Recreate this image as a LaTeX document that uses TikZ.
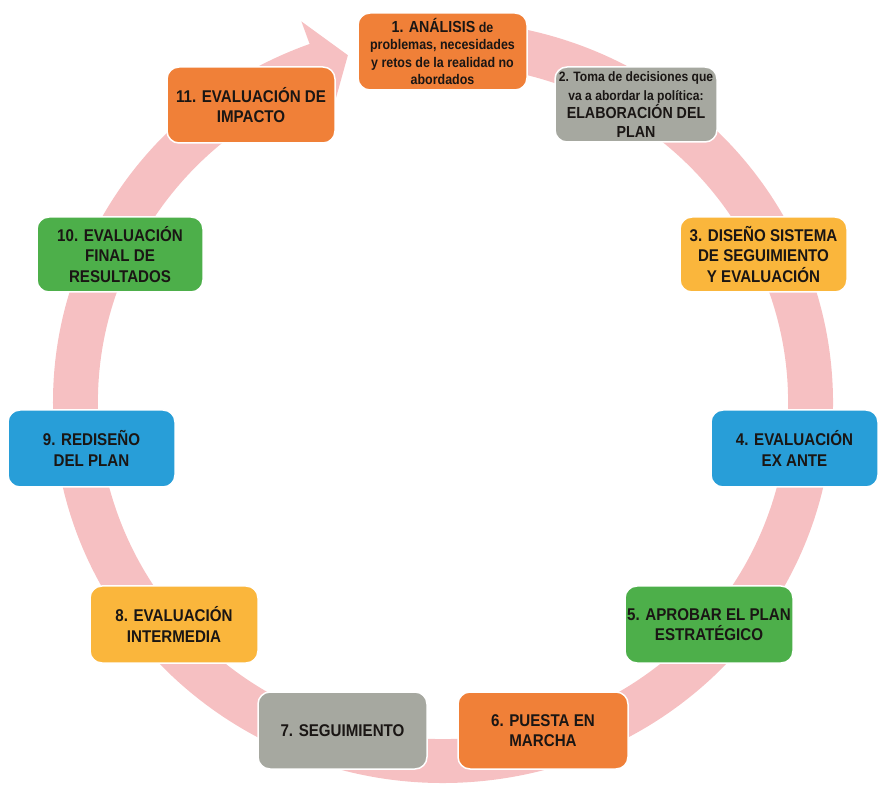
\documentclass[tikz,border=0pt]{standalone}
\usepackage{fontspec}
\newfontfamily\capf{Liberation Sans}[FakeStretch=0.89]
\definecolor{ringc}{RGB}{246,192,194}
\definecolor{orangec}{RGB}{240,128,56}
\definecolor{grayc}{RGB}{166,168,160}
\definecolor{yellowc}{RGB}{250,182,60}
\definecolor{bluec}{RGB}{40,158,216}
\definecolor{greenc}{RGB}{77,175,74}
\definecolor{txtc}{RGB}{26,22,20}
\begin{document}
\begin{tikzpicture}[x=1pt,y=1pt,
  box/.style={rounded corners=12pt,draw=white,line width=1.5pt,inner sep=0pt,
    align=center,text=txtc,minimum width=168pt,minimum height=77pt,
    font=\capf\bfseries\fontsize{17}{20.5}\selectfont},
  small/.style={font=\capf\bfseries\fontsize{14}{17.5}\selectfont}]
\useasboundingbox (0,0) rectangle (889,785);
\coordinate (c) at (443,383);
% ring with arrow head
\fill[ringc] ([shift={(c)}]95:390 and 381)
  arc[start angle=95,end angle=-250,x radius=390,y radius=381]
  -- ([shift={(c)}]-250:414 and 405)
  -- ([shift={(c)}]-255:367.5 and 359)
  -- ([shift={(c)}]-250:321 and 313)
  -- ([shift={(c)}]-250:345 and 337)
  arc[start angle=-250,end angle=95,x radius=345,y radius=337]
  -- cycle;
% boxes
\node[box,small,fill=orangec,minimum width=169pt] (n1) at (442.5,733.5)
  {{\fontsize{16}{17.5}\selectfont 1. ANÁLISIS} de\\problemas, necesidades\\y retos de la realidad no\\abordados};
\node[box,fill=grayc,minimum width=162pt,minimum height=75pt,
  font=\capf\bfseries\fontsize{13.6}{18.5}\selectfont] (n2) at (636,680.5)
  {2. Toma de decisiones que\\va a abordar la política:\\{\fontsize{16}{18.5}\selectfont ELABORACIÓN DEL}\\{\fontsize{16}{18.5}\selectfont PLAN}};
\node[box,fill=yellowc,minimum width=167pt,minimum height=75pt] (n3) at (763.5,530.5)
  {3. DISEÑO SISTEMA\\DE SEGUIMIENTO\\Y EVALUACIÓN};
\node[box,fill=bluec,minimum width=167pt] (n4) at (794.5,336.5)
  {4. EVALUACIÓN\\EX ANTE};
\node[box,fill=greenc] (n5) at (709,160.5)
  {5. APROBAR EL PLAN\\ESTRATÉGICO};
\node[box,fill=orangec,minimum width=170pt] (n6) at (543,54.5)
  {6. PUESTA EN\\MARCHA};
\node[box,fill=grayc,minimum width=169pt] (n7) at (342.5,54.5)
  {7. SEGUIMIENTO};
\node[box,fill=yellowc] (n8) at (174,160.5)
  {8. EVALUACIÓN\\INTERMEDIA};
\node[box,fill=bluec,minimum width=167pt] (n9) at (91.5,336.5)
  {9. REDISEÑO\\DEL PLAN};
\node[box,fill=greenc,minimum width=166pt,minimum height=75pt] (n10) at (120,530.5)
  {10. EVALUACIÓN\\FINAL DE\\RESULTADOS};
\node[box,fill=orangec,minimum height=76pt] (n11) at (251,680)
  {11. EVALUACIÓN DE\\IMPACTO};
\end{tikzpicture}
\end{document}
